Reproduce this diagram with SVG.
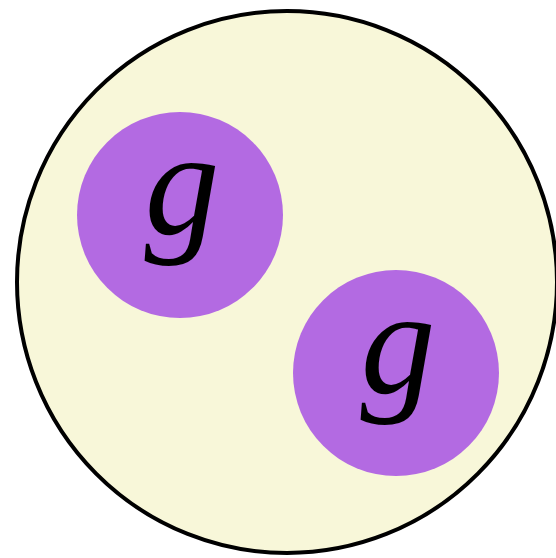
<svg xmlns="http://www.w3.org/2000/svg" width="556" height="558" viewBox="0 0 556 558">
<style>
.outer{fill:#F8F7D9;stroke:#000;stroke-width:4}
.ball{fill:#B36AE2}
.lbl{font-family:"Liberation Serif","DejaVu Serif",serif;font-style:italic;font-size:150px;fill:#000;text-anchor:middle}
</style>
<g id="outer"><ellipse class="outer" cx="287" cy="282" rx="270" ry="271"/></g>
<g id="g1"><circle class="ball" cx="180" cy="215" r="103"/><text class="lbl" x="182" y="234">g</text></g>
<g id="g2"><circle class="ball" cx="396" cy="373" r="103"/><text class="lbl" x="398" y="393">g</text></g>
<g id="connectors"/>
</svg>
